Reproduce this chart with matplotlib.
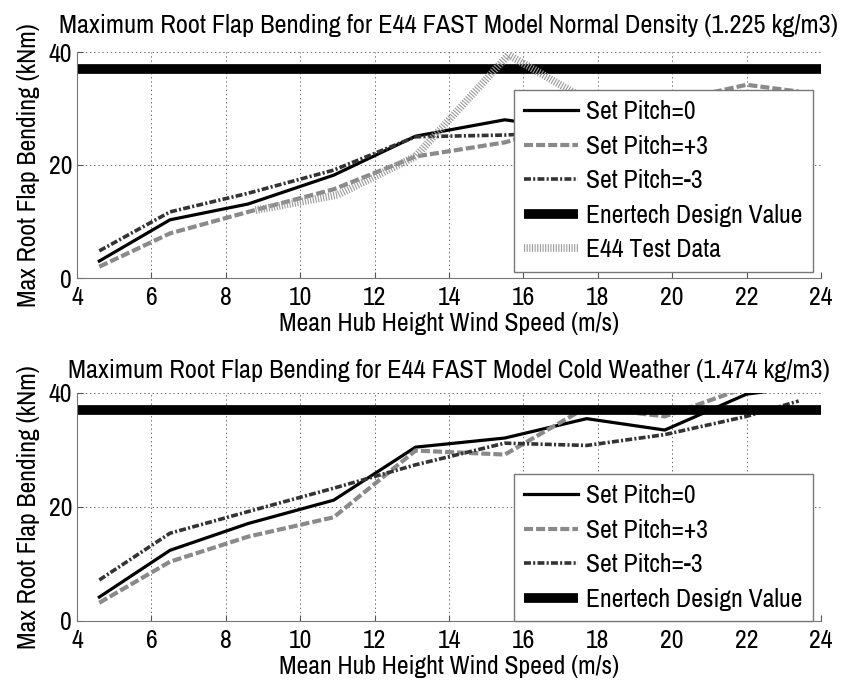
#! /usr/bin/env python3

import matplotlib
matplotlib.use( "Agg" )
import matplotlib.pyplot as plt

plt.rcParams["font.family"] = ["Archivo Narrow", "PT Sans Narrow", "Liberation Sans", "DejaVu Sans"]
plt.rcParams["lines.scale_dashes"] = False

# wind speeds (m/s)
speed = [4.6, 6.5, 8.6, 10.9, 13.1, 15.5, 17.7, 19.8, 22.0, 23.4]
speed_test = [8.8, 11.0, 13.1, 15.6, 17.7]

design_value = 37.0

# normal density (1.225 kg/m3)
normal_p0 = [3.0, 10.3, 13.1, 18.2, 25.1, 28.0, 26.0, 27.0, 29.0, 30.0]
normal_p3 = [2.0, 7.9, 11.7, 15.7, 21.5, 24.0, 28.0, 31.0, 34.2, 33.0]
normal_m3 = [4.8, 11.7, 15.0, 19.1, 25.0, 25.3, 26.0, 27.0, 28.0, 29.0]
normal_test = [12.0, 14.7, 21.5, 39.5, 31.5]

# cold weather (1.474 kg/m3)
cold_p0 = [4.2, 12.4, 17.1, 21.2, 30.5, 32.1, 35.5, 33.5, 39.8, 41.0]
cold_p3 = [3.2, 10.4, 14.8, 18.2, 29.9, 29.2, 37.5, 35.9, 41.0, 41.0]
cold_m3 = [7.2, 15.4, 19.2, 23.3, 27.4, 31.2, 30.8, 32.7, 35.9, 38.6]

titles = [ "Maximum Root Flap Bending for E44 FAST Model Normal Density (1.225 kg/m3)",
           "Maximum Root Flap Bending for E44 FAST Model Cold Weather (1.474 kg/m3)" ]

fs = 18.5

def plot_panel( ax, p0, p3, m3, test, title, pad, leg_y ):
    ax.plot( speed, p0, color="black", lw=2.3, label="Set Pitch=0" )
    ax.plot( speed, p3, color="#8a8a8a", lw=3.0, dashes=(6.5, 2.2), label="Set Pitch=+3" )
    ax.plot( speed, m3, color="#333333", lw=2.6, dashes=(5, 1.6, 1.5, 1.6), label="Set Pitch=-3" )
    ax.plot( [4, 24], [design_value, design_value], color="black", lw=7, solid_capstyle="butt",
             label="Enertech Design Value" )
    if test is not None:
        ax.plot( speed_test, test, color="#9a9a9a", lw=5.5, dashes=(0.8, 1.1), label="E44 Test Data" )

    ax.set_xlim( 4, 24 )
    ax.set_ylim( 0, 40 )
    ax.set_xticks( range( 4, 25, 2 ) )
    ax.set_yticks( [0, 20, 40] )
    ax.grid( True, color="#555555", linestyle=(0, (1, 2)), linewidth=0.6 )
    for side in ["top", "right"]:
        ax.spines[side].set_visible( False )
    for side in ["left", "bottom"]:
        ax.spines[side].set_color( "#777777" )
    ax.tick_params( direction="in", length=4, width=0.8, color="#555555", labelsize=fs )
    ax.tick_params( axis="x", pad=6 )
    ax.tick_params( axis="y", pad=3.5 )
    ax.set_xlabel( "Mean Hub Height Wind Speed (m/s)", fontsize=fs, labelpad=2 )
    ax.set_ylabel( "Max Root Flap Bending (kNm)", fontsize=fs, labelpad=6 )
    ax.set_title( title, fontsize=19, pad=pad )
    leg = ax.legend( loc="lower right", bbox_to_anchor=(0.989, leg_y), fontsize=fs, fancybox=False,
                     framealpha=1, edgecolor="#777777", handlelength=2.1, borderaxespad=0,
                     borderpad=0.4, labelspacing=0.45, handletextpad=0.3 )
    leg.get_frame().set_linewidth( 1.0 )

fig = plt.figure( figsize=(8.42, 6.86), dpi=100 )
ax1 = fig.add_axes( [77/842, 1 - 278/686, 744/842, 226/686] )
ax2 = fig.add_axes( [77/842, 1 - 621/686, 744/842, 228/686] )

plot_panel( ax1, normal_p0, normal_p3, normal_m3, normal_test, titles[0], 14, 0.028 )
plot_panel( ax2, cold_p0, cold_p3, cold_m3, None, titles[1], 11, 0.0 )

fig.savefig( "out.png", dpi=100 )
